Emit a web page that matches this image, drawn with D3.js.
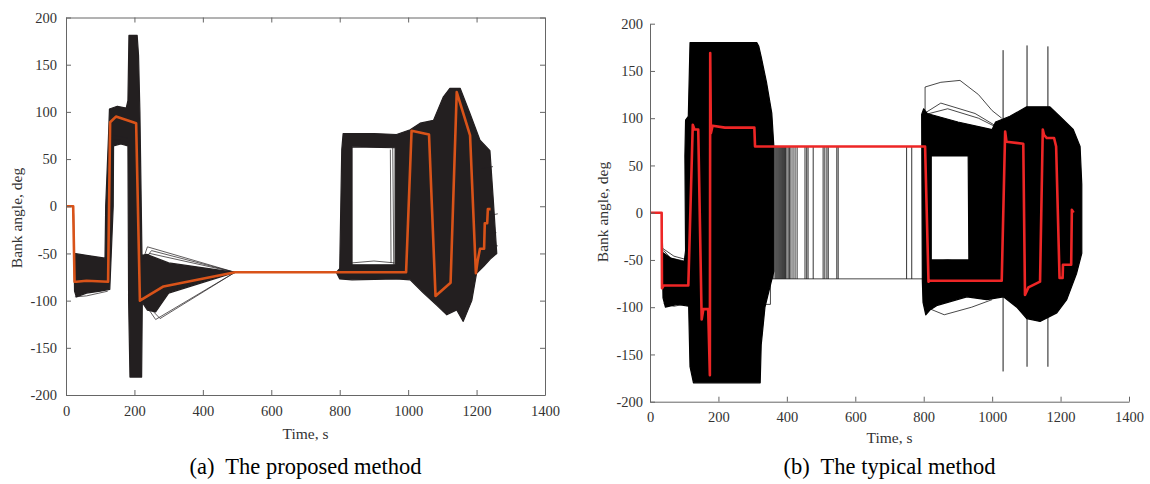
<!DOCTYPE html>
<html>
<head>
<meta charset="utf-8">
<style>
body { margin: 0; background: #fff; }
.axis path, .axis line { stroke: #666; stroke-width: 1; }
.axis text { fill: #333; font-size: 14.5px; }
.lbl { fill: #333; font-size: 15.5px; }
.cap { fill: #000; font-size: 22.5px; }
</style>
</head>
<body>
<svg width="1150" height="484" font-family="Liberation Serif, DejaVu Serif, serif"></svg>
<script src="https://d3js.org/d3.v7.min.js"></script>
<script>
// ---- data: [time s, bank angle deg] ----
var xTicks = [0, 200, 400, 600, 800, 1000, 1200, 1400];
var yTicks = [-200, -150, -100, -50, 0, 50, 100, 150, 200];

// (a) proposed method
var proposedNominal = [[0,0],[21,0],[25,-80],[30,-80],[60,-79],[123,-80],[129,89],[146,95],[205,88],[216,-100],
  [285,-85],[494,-70],[994,-70],[1010,80],[1061,76],[1080,-95],[1124,-81],[1142,121],[1181,75],[1198,-71],
  [1203,-58],[1210,-45],[1222,-45],[1224,-18],[1231,-18],[1233,-3],[1241,-3]];
var proposedBundle1 = [[21,0],[24,-50],[60,-52],[114,-55],[116,0],[124,72],[127,103],[150,106],[176,104],[181,112],
  [184,181],[208,181],[212,160],[216,100],[220,0],[222,-52],[236,-51],[300,-60],[494,-70],[300,-92],[262,-112],
  [238,-110],[223,-102],[221,-181],[187,-181],[183,-100],[181,64],[160,66],[139,64],[138,0],[128,-88],[100,-90],
  [60,-92],[30,-96],[25,-90],[22,-10]];
var proposedBundle2 = [[790,-70],[800,-66],[806,60],[810,77],[900,77],[966,76],[1006,81],[1035,88],[1074,91],
  [1103,116],[1122,125],[1152,125],[1181,98],[1210,70],[1239,59],[1249,6],[1259,-50],[1240,-56],[1220,-64],
  [1200,-71],[1186,-100],[1161,-122],[1142,-110],[1113,-115],[1084,-105],[1045,-92],[1006,-78],[966,-77],
  [836,-78],[800,-77]];
var proposedHole2 = [[836,63],[962,62],[962,-62],[836,-62]];
var proposedStray = [
  [[26,-96],[60,-95],[122,-90]],
  [[222,-60],[238,-43],[494,-70]],
  [[222,-60],[250,-47],[494,-70]],
  [[222,-58],[245,-50],[494,-70]],
  [[224,-100],[262,-120],[494,-70]],
  [[224,-100],[275,-119],[494,-70]],
  [[138,75],[160,74],[181,72]],
  [[138,70],[160,70],[181,68]],
  [[139,66],[160,67],[181,65]],
  [[955,62],[958,-62]],
  [[948,60],[950,-60]],
  [[836,-60],[900,-58],[960,-60]],
  [[1230,-40],[1262,-42]],
  [[1225,-30],[1258,-28]],
  [[1235,-10],[1262,-8]],
  [[1215,40],[1248,42]]
];

// (b) typical method
var typicalNominal = [[0,0],[34,0],[35,-80],[40,-77],[112,-77],[125,93],[130,88],[141,88],[151,-113],[156,-102],
  [170,-102],[175,-172],[176,169],[178,84],[183,92],[219,90],[305,90],[307,70],[804,70],[814,-73],[818,-72],
  [1028,-72],[1038,86],[1042,75],[1091,73],[1096,-87],[1106,-79],[1140,-73],[1148,88],[1152,82],[1160,79],
  [1181,79],[1187,70],[1197,-69],[1206,-69],[1207,-55],[1231,-55],[1233,3],[1238,0]];
var typicalBundle1 = [[34,0],[37,-42],[60,-48],[100,-52],[104,-40],[102,60],[104,98],[112,102],[117,180],[312,180],
  [318,176],[325,165],[341,137],[356,105],[362,70],[362,-62],[355,-72],[336,-100],[325,-140],[322,-180],[127,-180],
  [117,-163],[113,-99],[80,-97],[45,-100],[38,-90]];
var typicalBundle2 = [[796,-72],[794,104],[800,110],[810,105],[900,96],[1000,88],[1010,96],[1052,102],[1101,112],
  [1169,112],[1198,102],[1237,88],[1257,70],[1262,30],[1262,-43],[1247,-64],[1218,-92],[1189,-106],[1140,-115],
  [1101,-112],[1072,-100],[1033,-89],[984,-92],[926,-89],[840,-98],[818,-103],[806,-108],[798,-95]];
var typicalHole2 = [[822,60],[930,60],[932,-50],[822,-50]];
var typicalSwitchTimes = [358,362,366,369,372,375,378,381,384,387,390,393,396,400,404,408,412,418,424,430,
  453,458,462,477,506,511,517,521,546,550,750,765];
var typicalSpikeTimes = [1032, 1102, 1163];
var typicalSpikeTops = [172, 177, 176];
var typicalSpikeBottoms = [-168, -163, -163];
var typicalStray = [
  [[804,108],[804,133],[850,138],[906,140],[960,125],[1000,108],[1028,100]],
  [[806,106],[850,116],[950,105],[1010,92]],
  [[806,104],[870,110],[960,100],[1015,90]],
  [[806,-100],[860,-108],[940,-100],[1000,-92]],
  [[38,-38],[70,-46],[110,-50]],
  [[40,-40],[60,-48],[112,-52]],
  [[40,-96],[70,-99],[112,-96]],
  [[822,-52],[870,-50],[930,-53]],
  [[822,-57],[880,-54],[935,-58]],
  [[822,62],[880,64],[932,62]],
  [[934,60],[936,-55]],
  [[940,58],[942,-58]],
  [[355,-70],[800,-70]],
  [[330,-75],[352,-75],[352,-97],[330,-97]],
  [[300,100],[345,100],[345,60]]
];

var svg = d3.select("svg");

function drawPanel(p) {
  var x = d3.scaleLinear().domain([0, 1400]).range([p.left, p.left + p.w]);
  var y = d3.scaleLinear().domain([-200, 200]).range([p.top + p.h, p.top]);
  var line = d3.line().x(function(d) { return x(d[0]); }).y(function(d) { return y(d[1]); });
  var ring = function(pts) { return line(pts) + "Z"; };

  var g = svg.append("g");

  // monte carlo bundle (drawn as envelopes)
  p.bundles.forEach(function(b) {
    g.append("path")
      .attr("d", b.map(ring).join(" "))
      .attr("fill", p.bundleColor)
      .attr("fill-rule", "evenodd")
      .attr("stroke", p.bundleColor)
      .attr("stroke-width", 1.2)
      .attr("stroke-linejoin", "round");
  });

  p.stray.forEach(function(s) {
    g.append("path").attr("d", line(s))
      .attr("fill", "none").attr("stroke", p.bundleColor)
      .attr("stroke-width", 0.8).attr("stroke-opacity", 0.9);
  });

  if (p.switches) {
    g.selectAll(".sw").data(p.switches).enter().append("line")
      .attr("x1", function(d) { return x(d); }).attr("x2", function(d) { return x(d); })
      .attr("y1", y(70)).attr("y2", y(-70))
      .attr("stroke", "#000").attr("stroke-width", 0.8);
  }
  if (p.spikes) {
    g.selectAll(".sp").data(p.spikes.t).enter().append("line")
      .attr("x1", function(d) { return x(d); }).attr("x2", function(d) { return x(d); })
      .attr("y1", function(d, i) { return y(p.spikes.top[i]); })
      .attr("y2", function(d, i) { return y(p.spikes.bot[i]); })
      .attr("stroke", "#000").attr("stroke-width", 0.9);
  }

  g.append("path").attr("d", line(p.nominal))
    .attr("fill", "none").attr("stroke", p.nomColor)
    .attr("stroke-width", 2.6).attr("stroke-linejoin", "round");

  // axes, ticks pointing in
  var fmt = function(d) { return String(d); };
  var axes = [];
  axes.push(svg.append("g").attr("class", "axis")
    .attr("transform", "translate(0," + (p.top + p.h) + ")")
    .call(d3.axisBottom(x).tickValues(xTicks).tickFormat(fmt).tickSizeInner(-5).tickSizeOuter(0).tickPadding(p.xPad)));
  axes.push(svg.append("g").attr("class", "axis")
    .attr("transform", "translate(" + p.left + ",0)")
    .call(d3.axisLeft(y).tickValues(yTicks).tickFormat(fmt).tickSizeInner(-5).tickSizeOuter(0).tickPadding(p.yPad)));
  if (p.box) {
    axes.push(svg.append("g").attr("class", "axis")
      .attr("transform", "translate(0," + p.top + ")")
      .call(d3.axisTop(x).tickValues(xTicks).tickFormat("").tickSizeInner(-5).tickSizeOuter(0)));
    axes.push(svg.append("g").attr("class", "axis")
      .attr("transform", "translate(" + (p.left + p.w) + ",0)")
      .call(d3.axisRight(y).tickValues(yTicks).tickFormat("").tickSizeInner(-5).tickSizeOuter(0)));
  }
  axes.forEach(function(a) { a.attr("font-family", null).attr("font-size", null); });

  var cx = p.left + p.w / 2;
  svg.append("text").attr("class", "lbl").attr("x", cx).attr("y", p.xlabY)
    .attr("text-anchor", "middle").text("Time, s");
  svg.append("text").attr("class", "lbl")
    .attr("transform", "translate(" + p.ylabX + "," + p.ylabY + ") rotate(-90)")
    .attr("text-anchor", "middle").text("Bank angle, deg");
  svg.append("text").attr("class", "cap").attr("x", cx).attr("y", 474)
    .attr("text-anchor", "middle").attr("xml:space", "preserve").text(p.caption);
}

drawPanel({
  left: 66, top: 17.5, w: 479, h: 377.5, box: true, xPad: 11, yPad: 9,
  bundles: [[proposedBundle1], [proposedBundle2, proposedHole2]],
  bundleColor: "#231f20", stray: proposedStray, nominal: proposedNominal, nomColor: "#d95319",
  xlabY: 439, ylabX: 22, ylabY: 218, caption: "(a)  The proposed method"
});

drawPanel({
  left: 650, top: 23.7, w: 479, h: 378, box: false, xPad: 10, yPad: 7,
  bundles: [[typicalBundle1], [typicalBundle2, typicalHole2]],
  bundleColor: "#000", stray: typicalStray, nominal: typicalNominal, nomColor: "#ee2626",
  switches: typicalSwitchTimes,
  spikes: { t: typicalSpikeTimes, top: typicalSpikeTops, bot: typicalSpikeBottoms },
  xlabY: 443, ylabX: 608, ylabY: 212, caption: "(b)  The typical method"
});
</script>
</body>
</html>
